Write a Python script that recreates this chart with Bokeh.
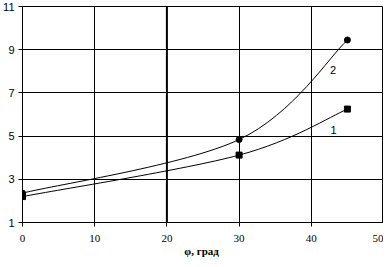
from bokeh.plotting import figure
from bokeh.models import Range1d, FixedTicker, Span
from bokeh.core.properties import value
from bokeh.embed import file_html
from bokeh.resources import INLINE

# data
phi = [0, 30, 45]
series1 = [2.2, 4.12, 6.25]
series2 = [2.36, 4.84, 9.45]
x_ticks = [0, 10, 20, 30, 40, 50]
y_ticks = [1, 3, 5, 7, 9, 11]
curve_labels = ["1", "2"]
label_x = [43.1, 43.0]
label_y = [5.3, 8.05]
x_title = "φ,  град"


def smooth_segments(xs, ys):
    """Cubic Bezier control points (Catmull-Rom style smoothing)."""
    n = len(xs)
    out = {k: [] for k in ("x0", "y0", "x1", "y1", "cx0", "cy0", "cx1", "cy1")}
    for i in range(n - 1):
        im = max(i - 1, 0)
        ip = min(i + 2, n - 1)
        out["x0"].append(xs[i]); out["y0"].append(ys[i])
        out["x1"].append(xs[i + 1]); out["y1"].append(ys[i + 1])
        out["cx0"].append(xs[i] + (xs[i + 1] - xs[im]) / 6)
        out["cy0"].append(ys[i] + (ys[i + 1] - ys[im]) / 6)
        out["cx1"].append(xs[i + 1] - (xs[ip] - xs[i]) / 6)
        out["cy1"].append(ys[i + 1] - (ys[ip] - ys[i]) / 6)
    return out


p = figure(width=383, height=259, output_backend="svg", toolbar_location=None,
           x_range=Range1d(0, 50), y_range=Range1d(1, 11),
           min_border_top=6, min_border_right=0, min_border_bottom=0,
           min_border_left=0)
p.background_fill_color = "white"
p.border_fill_color = "white"
p.outline_line_color = "black"
p.outline_line_width = 1

for g in (p.xgrid, p.ygrid):
    g.grid_line_color = "black"
    g.grid_line_width = 1
    g.grid_line_alpha = 1

p.xaxis.ticker = FixedTicker(ticks=x_ticks)
p.yaxis.ticker = FixedTicker(ticks=y_ticks)
p.xgrid.ticker = FixedTicker(ticks=x_ticks)
p.ygrid.ticker = FixedTicker(ticks=y_ticks)

for ax in (p.xaxis, p.yaxis):
    ax.axis_line_color = "black"
    ax.major_tick_line_color = "black"
    ax.major_tick_out = 4
    ax.major_tick_in = 0
    ax.minor_tick_line_color = None
    ax.major_label_text_color = "black"

p.xaxis.major_label_text_font = "Liberation Serif"
p.xaxis.major_label_text_font_size = "11px"
p.xaxis.major_label_standoff = 8
p.yaxis.major_label_text_font = "Liberation Sans"
p.yaxis.major_label_text_font_size = "11px"
p.yaxis.major_label_standoff = 4

p.xaxis.axis_label = x_title
p.xaxis.axis_label_text_font = "Liberation Serif"
p.xaxis.axis_label_text_font_style = "bold"
p.xaxis.axis_label_text_font_size = "11px"
p.xaxis.axis_label_standoff = 0
p.xaxis.axis_label_text_color = "black"

p.add_layout(Span(location=20, dimension="height", line_color="black", line_width=2))

for ys in (series1, series2):
    seg = smooth_segments(phi, ys)
    p.bezier(x0=seg["x0"], y0=seg["y0"], x1=seg["x1"], y1=seg["y1"],
             cx0=seg["cx0"], cy0=seg["cy0"], cx1=seg["cx1"], cy1=seg["cy1"],
             line_color="black", line_width=1)

p.scatter(phi, series1, marker="square", size=6, color="black")
p.scatter(phi, series2, marker="circle", size=6, color="black")

p.text(x=label_x, y=label_y, text=curve_labels, text_font=value("Liberation Sans"),
       text_font_size="11px", text_align="center", text_baseline="middle",
       text_color="black")

open("out.html", "w").write(file_html(p, INLINE))
